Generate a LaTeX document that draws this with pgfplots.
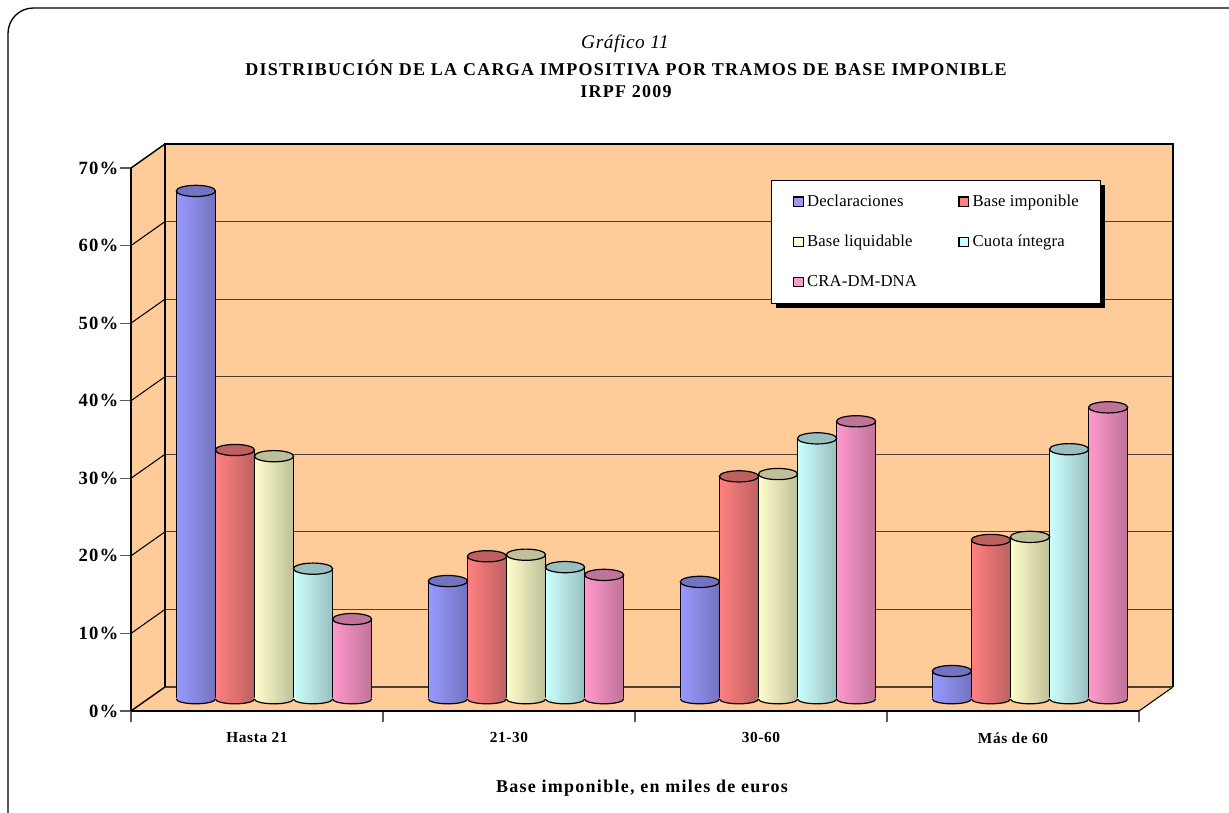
\documentclass[border=0pt]{standalone}
\usepackage{fontspec}
\setmainfont{Liberation Serif}
\usepackage{pgfplots}
\pgfplotsset{compat=1.18}
\usetikzlibrary{shadows}

\definecolor{wall}{HTML}{FFCC99}
\definecolor{gridc}{HTML}{4A4036}
\definecolor{cA}{HTML}{9999FF}\definecolor{dA}{HTML}{7373BF}
\definecolor{cB}{HTML}{FF8080}\definecolor{dB}{HTML}{BF6060}
\definecolor{cC}{HTML}{FFFFCC}\definecolor{dC}{HTML}{BFBF99}
\definecolor{cD}{HTML}{CCFFFF}\definecolor{dD}{HTML}{99BFBF}
\definecolor{cE}{HTML}{FF99CC}\definecolor{dE}{HTML}{BF7399}

\newcommand{\capmarks}[3]{%
  \pgfdeclareplotmark{top#1}{%
    \path[draw=black,line width=0.9pt,fill=#3] (0,0) ellipse [x radius=14.7pt,y radius=4.2pt];}%
  \pgfdeclareplotmark{bot#1}{%
    \path[draw=none,left color=#2,right color=#3] (-14.7pt,1pt) -- (-14.7pt,0pt)
      arc[start angle=180,end angle=360,x radius=14.7pt,y radius=3.6pt] -- (14.7pt,1pt) -- cycle;
    \draw[black,line width=0.9pt] (-14.7pt,0pt)
      arc[start angle=180,end angle=360,x radius=14.7pt,y radius=3.6pt];}%
}
\capmarks{A}{cA}{dA}
\capmarks{B}{cB}{dB}
\capmarks{C}{cC}{dC}
\capmarks{D}{cD}{dD}
\capmarks{E}{cE}{dE}

% one bar: series letter, x, value. Each bar is its own plot so that it gets its own shading
\newcommand{\cyl}[3]{%
  \addplot[forget plot,ybar,bar width=29.25pt,bar shift=0pt,draw=none,
    left color=c#1,right color=d#1] coordinates {(#2,#3)};
  \addplot[forget plot,ycomb,black,line width=0.9pt,xshift=-14.6pt] coordinates {(#2,#3)};
  \addplot[forget plot,ycomb,black,line width=0.9pt,xshift=14.6pt] coordinates {(#2,#3)};
  \addplot[forget plot,only marks,mark=bot#1] coordinates {(#2,0)};
  \addplot[forget plot,only marks,mark=top#1] coordinates {(#2,#3)};
}
% pgf level path: a tikz path here would pick up the legend's shadow
\newcommand{\entry}[2]{%
  \addlegendimage{legend image code/.code={
    \pgfpathmoveto{\pgfpointorigin}\pgfusepath{discard}
    \pgfsetlinewidth{0.8pt}\pgfsetstrokecolor{black}\pgfsetfillcolor{c#1}
    \pgfpathrectangle{\pgfqpoint{2.5pt}{-3.6pt}}{\pgfqpoint{7.4pt}{7.2pt}}
    \pgfusepath{fill,stroke}}}
  \addlegendentry{#2}
}

\begin{document}
\begin{tikzpicture}[x=0.75pt,y=0.75pt]
\path[use as bounding box] (0,0) rectangle (1229,813);
\begin{scope}
  \clip (0,0) rectangle (1229,813);
  \draw[black,line width=1pt,rounded corners=19pt] (8,805) rectangle (1260,-30);
\end{scope}

% front plane: ticks, labels, side wall and floor
\begin{axis}[
  at={(98.25pt,76.5pt)},anchor=origin,
  scale only axis,width=756pt,height=407.25pt,
  xmin=0,xmax=4,ymin=0,ymax=70,clip=false,
  axis x line*=bottom,axis y line*=left,
  axis line style={black,line width=1.1pt,-},
  xtick={0.5,1.5,2.5,3.5},
  xticklabels={Hasta 21,21-30,30-60,Más de 60},
  major x tick style={draw=none},
  minor xtick={0,1,2,3,4},
  minor tick length=8pt,
  minor x tick style={gray!70!black,line width=0.8pt},
  ytick={0,10,...,70},
  yticklabels={0\%,10\%,20\%,30\%,40\%,50\%,60\%,70\%},
  major tick length=8pt,
  major y tick style={gray!70!black,line width=0.8pt},
  tick align=outside,
  x tick label style={font=\fontsize{11.5pt}{13pt}\bfseries\addfontfeature{LetterSpace=4},yshift=-4.5pt},
  y tick label style={font=\fontsize{14pt}{16pt}\bfseries\addfontfeature{LetterSpace=6},xshift=2pt},
]
% side wall and floor, offset 34 px right and 24 px up = 0.1349 and 3.094 units
\addplot[fill=wall,draw=none] coordinates {(0,0) (0.1349,3.094) (0.1349,73.094) (0,70)} -- cycle;
\addplot[fill=wall,draw=none] coordinates {(0,0) (4,0) (4.1349,3.094) (0.1349,3.094)} -- cycle;
\addplot[black,line width=1.1pt] coordinates {(0,0) (0.1349,3.094)};
\addplot[black,line width=1.1pt] coordinates {(0,70) (0.1349,73.094)};
\addplot[black,line width=0.8pt] coordinates {(0,10) (0.1349,13.094)};
\addplot[black,line width=0.8pt] coordinates {(0,20) (0.1349,23.094)};
\addplot[black,line width=0.8pt] coordinates {(0,30) (0.1349,33.094)};
\addplot[black,line width=0.8pt] coordinates {(0,40) (0.1349,43.094)};
\addplot[black,line width=0.8pt] coordinates {(0,50) (0.1349,53.094)};
\addplot[black,line width=0.8pt] coordinates {(0,60) (0.1349,63.094)};
\addplot[black,line width=0.8pt] coordinates {(4,0) (4.1349,3.094)};
\addplot[black,line width=1.1pt] coordinates {(0,0) (0,70)};
\addplot[black,line width=1.1pt] coordinates {(0,0) (4,0)};
\end{axis}

% back wall with the gridlines
\begin{axis}[
  at={(123.75pt,94.5pt)},anchor=origin,
  scale only axis,width=756pt,height=407.25pt,
  xmin=0,xmax=4,ymin=0,ymax=70,clip=false,
  xtick=\empty,ytick={0,10,...,70},yticklabels={},
  major tick length=0pt,
  ymajorgrids,
  grid style={gridc,line width=0.8pt},
  axis background/.style={fill=wall},
  axis line style={draw=none},
]
\addplot[black,line width=1.1pt] coordinates {(0,0) (0,70) (4,70) (4,0)};
\end{axis}

% bars, half way between front plane and back wall
\begin{axis}[
  at={(111pt,85.5pt)},anchor=origin,
  scale only axis,width=756pt,height=407.25pt,
  xmin=0,xmax=4,ymin=0,ymax=70,clip=false,
  axis lines=none,
  legend columns=2,
  legend cell align=left,
  legend style={
    at={(0.618,0.956)},anchor=north west,
    fill=white,draw=black,line width=0.7pt,
    general shadow={shadow xshift=3.4pt,shadow yshift=-3.4pt,fill=black},
    font=\fontsize{12.5pt}{14pt}\addfontfeature{LetterSpace=1},
    inner xsep=14pt,inner ysep=9pt,
    /tikz/every odd column/.append style={column sep=0.5pt},
    /tikz/every even column/.append style={column sep=27pt},
    /tikz/row sep=16pt,
  },
]
\entry{A}{Declaraciones}
\entry{B}{Base imponible}
\entry{C}{Base liquidable}
\entry{D}{Cuota íntegra}
\entry{E}{CRA-DM-DNA}
% Declaraciones
\cyl{A}{0.19}{65.5}\cyl{A}{1.19}{15.2}\cyl{A}{2.19}{15.1}\cyl{A}{3.19}{3.6}
% Base imponible
\cyl{B}{0.345}{32.1}\cyl{B}{1.345}{18.4}\cyl{B}{2.345}{28.7}\cyl{B}{3.345}{20.5}
% Base liquidable
\cyl{C}{0.50}{31.3}\cyl{C}{1.50}{18.6}\cyl{C}{2.50}{29.0}\cyl{C}{3.50}{20.9}
% Cuota integra
\cyl{D}{0.655}{16.8}\cyl{D}{1.655}{17.0}\cyl{D}{2.655}{33.6}\cyl{D}{3.655}{32.2}
% CRA-DM-DNA
\cyl{E}{0.81}{10.3}\cyl{E}{1.81}{16.0}\cyl{E}{2.81}{35.8}\cyl{E}{3.81}{37.6}
\end{axis}

\node[font=\fontsize{14.5pt}{16pt}\itshape\addfontfeature{LetterSpace=3}] at (625,769) {Gráfico 11};
\node[font=\fontsize{13.5pt}{16pt}\bfseries\addfontfeature{LetterSpace=7}] at (626,745) {DISTRIBUCIÓN DE LA CARGA IMPOSITIVA POR TRAMOS DE BASE IMPONIBLE};
\node[font=\fontsize{13.5pt}{16pt}\bfseries\addfontfeature{LetterSpace=7}] at (626,721) {IRPF 2009};
\node[font=\fontsize{13.5pt}{16pt}\bfseries\addfontfeature{LetterSpace=7}] at (642,25) {Base imponible, en miles de euros};
\end{tikzpicture}
\end{document}
